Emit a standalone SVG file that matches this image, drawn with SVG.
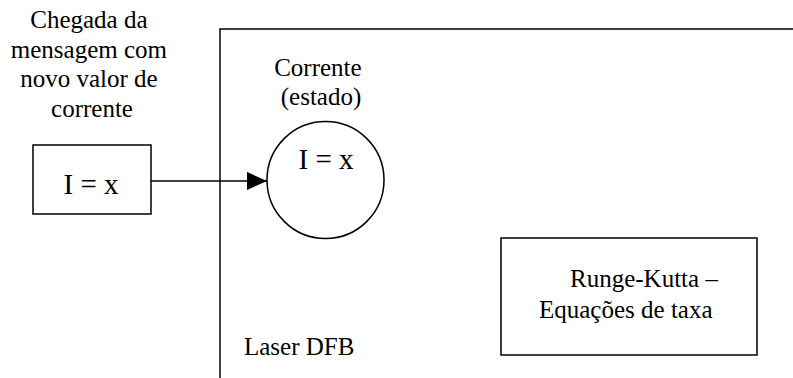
<svg xmlns="http://www.w3.org/2000/svg" width="793" height="378" viewBox="0 0 793 378">
  <style>
    .ln { fill: none; stroke: #000; stroke-width: 1.5; }
    .tx { font-family: 'Liberation Serif', 'DejaVu Serif', serif; font-size: 25px; fill: #000; }
    .big { font-size: 29px; }
  </style>
  <defs>
    <marker id="arrow" viewBox="0 0 20 18" refX="20" refY="9" markerWidth="20" markerHeight="18" markerUnits="userSpaceOnUse" orient="auto">
      <path d="M0,0 L20,9 L0,18 Z" fill="#000"/>
    </marker>
  </defs>
  <rect width="793" height="378" fill="#fff"/>

  <!-- Laser DFB enclosure (open to the right and bottom) -->
  <g id="laser">
    <path class="ln" d="M220,378 V29 H793"/>
    <text class="tx" x="244" y="355" font-family="Liberation Serif, serif">Laser DFB</text>
  </g>

  <!-- incoming message -->
  <g id="message">
    <text class="tx" text-anchor="middle" font-family="Liberation Serif, serif">
      <tspan x="92" y="28">Chegada da</tspan>
      <tspan x="92" y="57.5">mensagem com</tspan>
      <tspan x="92" y="87">novo valor de</tspan>
      <tspan x="92" y="116.5">corrente</tspan>
    </text>
    <rect class="ln" x="33" y="145" width="118" height="69"/>
    <text class="tx big" x="91" y="194" text-anchor="middle" font-family="Liberation Serif, serif">I = x</text>
  </g>

  <!-- current state -->
  <g id="state">
    <text class="tx" text-anchor="middle" font-family="Liberation Serif, serif">
      <tspan x="321" y="75.5">Corrente</tspan>
      <tspan x="321" y="104.5">(estado)</tspan>
    </text>
    <circle class="ln" cx="325.5" cy="180" r="58.5"/>
    <text class="tx big" x="326" y="169" text-anchor="middle" font-family="Liberation Serif, serif">I = x</text>
  </g>

  <!-- rate equation solver -->
  <g id="solver">
    <rect class="ln" x="501" y="238" width="256" height="117"/>
    <text class="tx" font-family="Liberation Serif, serif">
      <tspan x="570" y="287">Runge-Kutta –</tspan>
      <tspan x="539" y="317.5">Equações de taxa</tspan>
    </text>
  </g>

  <g id="connectors">
    <line class="ln" x1="151" y1="181" x2="267" y2="181" marker-end="url(#arrow)"/>
  </g>
</svg>
